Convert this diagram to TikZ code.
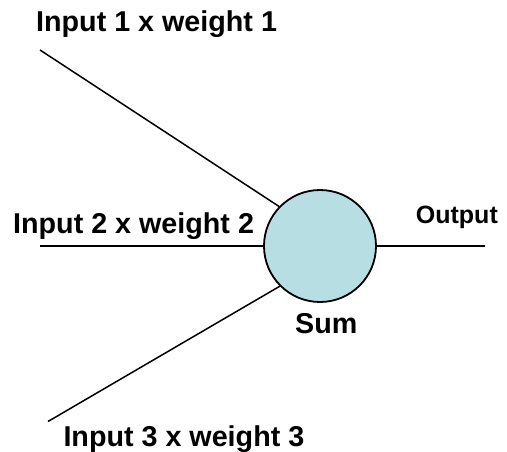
\documentclass[tikz,border=0pt]{standalone}
\usepackage{fontspec}
\setmainfont{Liberation Sans}
\definecolor{sumfill}{RGB}{183,222,226}
\tikzset{
  lbl/.style={anchor=base west, inner sep=0pt, font=\bfseries\fontsize{28.7}{30}\selectfont},
  lblsmall/.style={anchor=base west, inner sep=0pt, font=\bfseries\fontsize{25}{27}\selectfont},
  wire/.style={line width=1.5pt, black},
  neuron/.style={circle, draw=black, line width=1.8pt, fill=sumfill, minimum size=112pt, inner sep=0pt}
}
\begin{document}
\begin{tikzpicture}[x=1pt,y=-1pt]
\useasboundingbox (0,0) rectangle (507,452);
\node[neuron] (c) at (320,246) {};
\coordinate (p1) at (40,50);
\coordinate (p2) at (40,246);
\coordinate (p3) at (48,421.5);
\coordinate (po) at (485,246);
\draw[wire] (p1) -- (c.136);
\draw[wire] (p2) -- (c.west);
\draw[wire] (p3) -- (c.225);
\draw[wire] (c.east) -- (po);
\node[lbl] (t1) at (36,31.7) {Input 1 x weight 1};
\node[lbl] (t2) at (13,233.3) {Input 2 x weight 2};
\node[lbl] (t3) at (63.3,446.5) {Input 3 x weight 3};
\node[lblsmall] (to) at (415.7,223) {Output};
\node[lbl] (ts) at (295,333.3) {Sum};
\end{tikzpicture}
\end{document}
